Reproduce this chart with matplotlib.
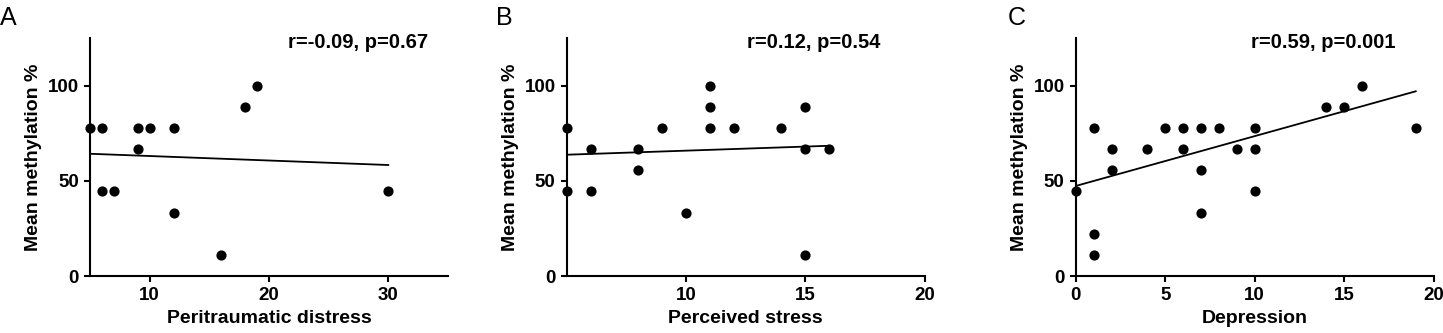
import matplotlib
matplotlib.use('Agg')
import matplotlib.pyplot as plt

plt.rcParams['font.family'] = ['Liberation Sans', 'DejaVu Sans']

# panel A: peritraumatic distress
a_x = [5, 6, 6, 7, 9, 9, 10, 12, 12, 16, 18, 19, 30]
a_y = [77.8, 77.8, 44.4, 44.4, 77.8, 66.7, 77.8, 77.8, 33.3, 11.1, 88.9, 100, 44.4]
a_fit_x = [5, 30]
a_fit_y = [64.2, 58.3]

# panel B: perceived stress
b_x = [5, 5, 6, 6, 8, 8, 9, 10, 11, 11, 11, 12, 14, 15, 15, 15, 16]
b_y = [77.8, 44.4, 66.7, 44.4, 66.7, 55.6, 77.8, 33.3, 100, 88.9, 77.8, 77.8, 77.8,
       88.9, 66.7, 11.1, 66.7]
b_fit_x = [5, 16]
b_fit_y = [63.7, 68.4]

# panel C: depression
c_x = [0, 1, 1, 1, 2, 2, 4, 5, 6, 6, 7, 7, 7, 8, 9, 10, 10, 10, 14, 15, 16, 19]
c_y = [44.4, 77.8, 22.2, 11.1, 66.7, 55.6, 66.7, 77.8, 77.8, 66.7, 77.8, 55.6, 33.3,
       77.8, 66.7, 77.8, 66.7, 44.4, 88.9, 88.9, 100, 77.8]
c_fit_x = [0, 19]
c_fit_y = [47.3, 97.0]

panels = [
    ('A', a_x, a_y, a_fit_x, a_fit_y, 'Peritraumatic distress', (5, 35), [10, 20, 30],
     'r=-0.09, p=0.67'),
    ('B', b_x, b_y, b_fit_x, b_fit_y, 'Perceived stress', (5, 20), [10, 15, 20],
     'r=0.12, p=0.54'),
    ('C', c_x, c_y, c_fit_x, c_fit_y, 'Depression', (0, 20), [0, 5, 10, 15, 20],
     'r=0.59, p=0.001'),
]

lefts = [0.0624, 0.3927, 0.7455]
width = 0.248
bottom = 0.171
height = 0.715
letter_x = [0.0, 0.3437, 0.6985]
text_right = [0.297, 0.61, 0.967]

fig = plt.figure(figsize=(14.43, 3.33), dpi=100)

for i, (letter, x, y, fx, fy, xlabel, xlim, xticks, stat) in enumerate(panels):
    ax = fig.add_axes([lefts[i], bottom, width, height])
    ax.scatter(x, y, s=40, color='black', zorder=3, clip_on=False)
    ax.plot(fx, fy, color='black', linewidth=1.3)
    ax.set_xlim(*xlim)
    ax.set_ylim(0, 125)
    ax.set_xticks(xticks)
    ax.set_yticks([0, 50, 100])
    for side in ['top', 'right']:
        ax.spines[side].set_visible(False)
    for side in ['left', 'bottom']:
        ax.spines[side].set_linewidth(1.5)
    ax.tick_params(width=1.5, length=4.5, labelsize=13.5, pad=3.5)
    for lab in ax.get_xticklabels() + ax.get_yticklabels():
        lab.set_fontweight('bold')
    ax.set_xlabel(xlabel, fontsize=14, fontweight='bold', labelpad=4)
    ax.set_ylabel('Mean methylation %', fontsize=14, fontweight='bold', labelpad=4)
    fig.text(text_right[i], 0.872, stat, fontsize=14.5, fontweight='bold',
             ha='right', va='center')
    fig.text(letter_x[i], 0.945, letter, fontsize=18, ha='left', va='center')

fig.savefig('out.png', dpi=100)
